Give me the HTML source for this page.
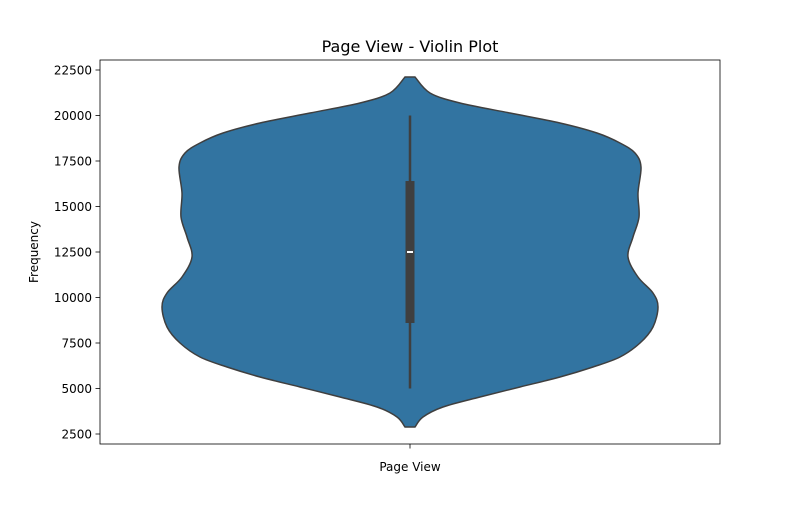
<!DOCTYPE html>
<html><head><meta charset="utf-8"><style>
body{margin:0;background:#fff;font-family:"Liberation Sans","DejaVu Sans",sans-serif}
svg text{font-family:"DejaVu Sans","Liberation Sans",sans-serif;fill:#000}
</style></head><body>
<svg id="chart" width="800" height="500" viewBox="0 0 800 500">
<rect x="0" y="0" width="800" height="500" fill="#fff"/>
<text x="410" y="52" font-size="16" text-anchor="middle">Page View - Violin Plot</text>
<g id="violin"></g>
<g id="yaxis"></g>
<rect x="100" y="60" width="620" height="384" fill="none" stroke="#000" stroke-width="0.8"/>
<line x1="410" y1="444" x2="410" y2="448.5" stroke="#000" stroke-width="0.8"/>
<text x="410" y="471" font-size="12" text-anchor="middle">Page View</text>
<text transform="translate(38,252) rotate(-90)" font-size="12" text-anchor="middle">Frequency</text>
</svg>
<script>
const yTicks=[2500,5000,7500,10000,12500,15000,17500,20000,22500];
const densityValues=[2885,3434,3984,4533,5082,5632,6181,6731,7500,8379,9478,10247,11126,12225,13324,14423,15742,17170,17940,18489,19038,19588,20137,20687,21236,22115];
const densityWidths=[5,13,33,70,110,150,183,210,230,243,248,243,228,218,223,229,228,231,225,210,187,150,100,50,20,5];
const boxStats=[5000,8600,12500,16400,20000]; // whisker low, q1, median, q3, whisker high
const NS='http://www.w3.org/2000/svg';
const y=v=>434-(v-2500)*0.0182;
const cx=410;
const yg=document.getElementById('yaxis');
yTicks.forEach(t=>{
 const l=document.createElementNS(NS,'line');
 l.setAttribute('x1',95.5);l.setAttribute('x2',100);l.setAttribute('y1',y(t));l.setAttribute('y2',y(t));
 l.setAttribute('stroke','#000');l.setAttribute('stroke-width','0.8');
 
 
 yg.appendChild(l);
 const tx=document.createElementNS(NS,'text');
 tx.setAttribute('x',92);tx.setAttribute('y',y(t)+4.5);tx.setAttribute('font-size','12');tx.setAttribute('text-anchor','end');
 tx.textContent=t;
 
 
 yg.appendChild(tx);
});
function smooth(pts){
 let d='';
 for(let i=0;i<pts.length-1;i++){
  const p0=pts[Math.max(0,i-1)],p1=pts[i],p2=pts[i+1],p3=pts[Math.min(pts.length-1,i+2)];
  const c1=[p1[0]+(p2[0]-p0[0])/6,p1[1]+(p2[1]-p0[1])/6];
  const c2=[p2[0]-(p3[0]-p1[0])/6,p2[1]-(p3[1]-p1[1])/6];
  d+=` C${c1[0]},${c1[1]} ${c2[0]},${c2[1]} ${p2[0]},${p2[1]}`;
 }
 return d;
}
const right=densityValues.map((v,i)=>[cx+densityWidths[i],y(v)]);
const left=densityValues.map((v,i)=>[cx-densityWidths[i],y(v)]).reverse();
let d=`M${right[0][0]},${right[0][1]}`+smooth(right)+` L${left[0][0]},${left[0][1]}`+smooth(left)+' Z';
const vg=document.getElementById('violin');
const p=document.createElementNS(NS,'path');
p.setAttribute('d',d);p.setAttribute('fill','#3274a1');p.setAttribute('stroke','#3f3f3f');p.setAttribute('stroke-width','1.5');


vg.appendChild(p);
const w=document.createElementNS(NS,'line');
w.setAttribute('x1',cx);w.setAttribute('x2',cx);w.setAttribute('y1',y(boxStats[0]));w.setAttribute('y2',y(boxStats[4]));
w.setAttribute('stroke','#3f3f3f');w.setAttribute('stroke-width','2.5');


vg.appendChild(w);
const b=document.createElementNS(NS,'rect');
b.setAttribute('x',cx-4.5);b.setAttribute('width',9);b.setAttribute('y',y(boxStats[3]));b.setAttribute('height',y(boxStats[1])-y(boxStats[3]));
b.setAttribute('fill','#3f3f3f');


vg.appendChild(b);
const m=document.createElementNS(NS,'line');
m.setAttribute('x1',cx-3);m.setAttribute('x2',cx+3);m.setAttribute('y1',y(boxStats[2]));m.setAttribute('y2',y(boxStats[2]));
m.setAttribute('stroke','#fff');m.setAttribute('stroke-width','2');


vg.appendChild(m);
</script>
</body></html>
